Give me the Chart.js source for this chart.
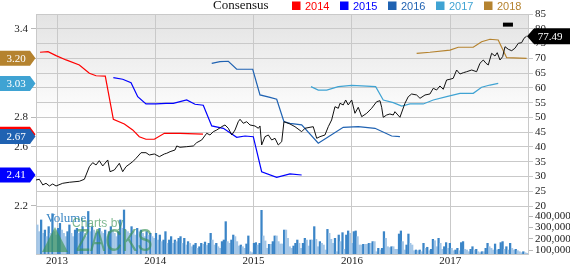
<!DOCTYPE html>
<html><head><meta charset="utf-8">
<script src="https://cdn.jsdelivr.net/npm/chart.js@4.4.1/dist/chart.umd.min.js"></script>
<style>html,body{margin:0;padding:0;background:#fff}</style>
</head><body>
<canvas id="c" width="570" height="264" style="width:570px;height:264px;display:block"></canvas>
<script>
// ---------- DATA ----------
const yearTicks = [2013, 2014, 2015, 2016, 2017];
const legendYears = ['2014', '2015', '2016', '2017', '2018'];
const volumeTicks = [100000, 200000, 300000, 400000];

const priceX = [2012.786,2012.820,2012.855,2012.888,2012.922,2012.956,2012.990,2013.058,2013.125,2013.227,2013.278,2013.329,2013.363,2013.397,2013.430,2013.465,2013.516,2013.539,2013.583,2013.634,2013.668,2013.702,2013.770,2013.804,2013.855,2013.905,2013.939,2013.990,2014.041,2014.092,2014.116,2014.150,2014.200,2014.218,2014.251,2014.319,2014.387,2014.421,2014.472,2014.523,2014.556,2014.590,2014.625,2014.675,2014.709,2014.743,2014.778,2014.811,2014.844,2014.862,2014.895,2014.930,2014.963,2015.014,2015.048,2015.065,2015.082,2015.116,2015.150,2015.184,2015.218,2015.251,2015.286,2015.309,2015.370,2015.421,2015.489,2015.523,2015.574,2015.607,2015.642,2015.675,2015.726,2015.760,2015.794,2015.828,2015.862,2015.879,2015.912,2015.937,2015.963,2015.998,2016.031,2016.065,2016.100,2016.151,2016.201,2016.252,2016.286,2016.303,2016.319,2016.354,2016.387,2016.421,2016.438,2016.489,2016.540,2016.574,2016.608,2016.659,2016.693,2016.744,2016.794,2016.828,2016.862,2016.896,2016.930,2016.964,2016.998,2017.031,2017.066,2017.100,2017.134,2017.168,2017.219,2017.269,2017.303,2017.337,2017.365,2017.388,2017.422,2017.456,2017.479,2017.507,2017.534,2017.558,2017.592,2017.626,2017.659,2017.693,2017.727,2017.751,2017.778];
const priceY = [28.81,29.05,27.12,27.69,26.78,27.45,26.78,27.69,28.03,28.37,29.05,33.31,34.67,33.89,35.34,33.55,35.58,31.62,32.19,34.46,31.62,33.31,35.00,36.15,38.05,38.05,37.27,37.61,36.70,37.61,37.85,38.39,38.96,40.32,39.88,40.08,40.32,41.44,42.35,44.62,44.04,45.16,45.73,46.85,47.43,46.31,44.04,45.73,48.54,49.36,48.00,48.54,47.43,47.09,46.31,47.09,40.66,43.47,44.04,42.35,42.92,40.66,41.77,48.54,47.77,46.85,45.16,46.31,46.65,46.85,42.92,43.47,44.04,46.85,49.12,53.62,53.08,54.77,54.20,55.89,54.20,55.89,51.39,53.42,50.24,51.39,53.08,55.31,55.65,53.42,50.03,50.81,51.15,50.81,51.93,50.03,54.77,57.01,57.92,57.58,56.46,57.58,57.92,59.85,59.27,60.63,59.51,62.66,62.90,63.23,66.04,64.69,65.13,65.47,66.04,65.47,68.31,69.43,68.31,67.74,71.70,70.78,71.90,69.43,70.55,73.93,73.05,72.58,73.39,75.08,75.28,76.77,77.49];

const est2014X = [2012.827,2012.908,2012.990,2013.092,2013.227,2013.329,2013.397,2013.491,2013.573,2013.685,2013.770,2013.837,2013.905,2013.990,2014.092,2014.251,2014.485];
const est2014Y = [3.241,3.245,3.218,3.189,3.155,3.099,3.082,3.080,2.787,2.755,2.715,2.669,2.652,2.652,2.692,2.692,2.686];
const est2015X = [2013.573,2013.668,2013.753,2013.821,2013.905,2014.007,2014.109,2014.183,2014.319,2014.404,2014.488,2014.574,2014.692,2014.828,2014.913,2014.997,2015.082,2015.235,2015.370,2015.489];
const est2015Y = [3.069,3.058,3.035,2.940,2.891,2.891,2.895,2.895,2.918,2.889,2.882,2.742,2.726,2.665,2.674,2.669,2.432,2.394,2.417,2.410];
const est2016X = [2014.574,2014.658,2014.743,2014.828,2014.991,2015.065,2015.167,2015.235,2015.309,2015.370,2015.489,2015.658,2015.912,2016.065,2016.235,2016.405,2016.489];
const est2016Y = [3.166,3.177,3.180,3.126,3.126,2.952,2.936,2.923,2.771,2.760,2.749,2.625,2.733,2.737,2.726,2.674,2.670];
const est2017X = [2015.584,2015.658,2015.744,2015.862,2015.998,2016.100,2016.242,2016.319,2016.421,2016.507,2016.591,2016.726,2016.828,2016.964,2017.100,2017.235,2017.320,2017.405,2017.489];
const est2017Y = [3.008,2.985,2.985,3.008,3.017,3.013,3.008,2.918,2.900,2.877,2.891,2.891,2.918,2.940,2.963,2.963,3.004,3.019,3.030];
const est2018X = [2016.659,2016.794,2016.998,2017.082,2017.235,2017.320,2017.405,2017.489,2017.575,2017.778];
const est2018Y = [3.234,3.241,3.256,3.275,3.275,3.312,3.329,3.324,3.204,3.200];

const markerX = [2017.537, 2017.639];
const markerY = [81.4, 81.4];

// weekly volume (thousands of shares), first week at volumeStart
const volumeStart = 2012.80;
const volumeStep = 1 / 52.18;
const volumeK = [321,262,365,247,276,218,306,247,420,262,232,291,335,276,247,218,262,321,247,218,276,291,247,262,306,247,218,440,262,306,276,247,262,291,262,247,276,218,262,306,276,247,218,262,365,291,453,276,262,247,306,262,232,291,262,276,247,218,262,232,247,218,203,247,188,232,174,188,262,159,188,218,159,188,174,203,218,159,203,144,174,159,129,144,159,115,129,
159,150,170,140,159,247,188,144,159,129,115,174,188,350,174,159,188,232,218,174,135,144,129,115,153,224,85,76,159,165,144,159,450,224,180,115,150,150,174,224,224,174,153,153,276,276,203,129,115,135,159,188,159,115,159,203,188,135,188,188,306,194,129,174,159,144,100,282,247,194,159,203,85,232,174,253,106,232,268,247,159,262,268,218,144,144,150,
150,150,159,159,174,174,85,115,100,115,262,203,129,121,129,129,106,106,241,268,174,100,144,241,159,144,94,100,94,100,85,159,115,124,94,106,194,182,129,203,159,106,129,165,115,159,115,94,100,115,94,165,174,106,100,85,106,129,100,106,85,76,85,85,115,159,129,115,100,153,100,106,165,174,106,129,100,159,115,100,106,94,85,76,85,76,71];

// ---------- STYLE ----------
const SERIF = '"Liberation Serif", "DejaVu Serif", serif';
const SANS = '"Liberation Sans", "DejaVu Sans", sans-serif';
const COL = {'2014':'#ff0000','2015':'#0000ff','2016':'#1f62b2','2017':'#3fa3d3','2018':'#b5832f'};
const GRID = '#c9c9c9';
const X_MIN = 2012.786, X_MAX = 2017.792;

const pts = (xs, ys) => xs.map((x, i) => ({x, y: ys[i]}));
const estLine = (yr, xs, ys) => ({type:'line', label: yr, yAxisID:'yL', data: pts(xs, ys), borderColor: COL[yr], borderWidth: 1.2, pointRadius: 0, tension: 0, order: 2});

const datasets = [
  {type:'bar', label:'Volume', yAxisID:'yV', order: 10,
   data: volumeK.map((v, i) => ({x: volumeStart + i * volumeStep, y: v * 1000})),
   backgroundColor: ctx => { const i = ctx.dataIndex; return (i > 0 && volumeK[i] > volumeK[i-1]) ? '#3b85c7' : '#a3c6e7'; },
   barThickness: 1.6, borderWidth: 0},
  estLine('2014', est2014X, est2014Y),
  estLine('2015', est2015X, est2015Y),
  estLine('2016', est2016X, est2016Y),
  estLine('2017', est2017X, est2017Y),
  estLine('2018', est2018X, est2018Y),
  {type:'line', label:'Price', yAxisID:'yP', data: pts(priceX, priceY), borderColor:'#111', borderWidth: 1, pointRadius: 0, tension: 0, order: 1},
  {type:'line', label:'Marker', yAxisID:'yP', data: pts(markerX, markerY), borderColor:'#000', borderWidth: 4, pointRadius: 0, order: 0}
];

const setTicks = vals => s => { s.ticks = vals.map(v => ({value: v})); };

const decor = {
  id: 'decor',
  beforeDraw(chart) {
    const {ctx, chartArea: a} = chart;
    const g = ctx.createLinearGradient(0, a.top, 0, a.bottom);
    g.addColorStop(0, '#e3e3e3');
    g.addColorStop(0.45, '#ffffff');
    g.addColorStop(1, '#ffffff');
    ctx.save(); ctx.fillStyle = g; ctx.fillRect(a.left, a.top, a.right - a.left, a.bottom - a.top); ctx.restore();
  },
  afterDatasetsDraw(chart) {
    const {ctx, chartArea: a} = chart;
    ctx.save();
    // Volume label
    ctx.fillStyle = '#3a86c4';
    ctx.font = '13px ' + SERIF;
    ctx.textBaseline = 'alphabetic'; ctx.textAlign = 'left';
    ctx.fillText('Volume', a.left + 10, a.bottom - 32);
    // watermark
    ctx.globalAlpha = 0.65;
    ctx.fillStyle = '#3b9456';
    ctx.font = '12px ' + SANS;
    ctx.fillText('Charts by', a.left + 36, a.bottom - 27);
    ctx.save();
    ctx.translate(a.left + 40, a.bottom - 3);
    ctx.scale(0.74, 1);
    ctx.font = '31px ' + SANS;
    ctx.fillText('ZACKS', 0, 0);
    ctx.restore();
    // triangle logo
    ctx.beginPath();
    ctx.moveTo(a.left + 6, a.bottom - 2);
    ctx.lineTo(a.left + 19, a.bottom - 27);
    ctx.lineTo(a.left + 32, a.bottom - 2);
    ctx.closePath(); ctx.fill();
    ctx.globalAlpha = 1;
    ctx.restore();
  },
  afterDraw(chart) {
    const {ctx, chartArea: a, scales} = chart;
    ctx.save();
    // top border
    ctx.strokeStyle = GRID; ctx.lineWidth = 1;
    ctx.beginPath(); ctx.moveTo(a.left, a.top + 0.5); ctx.lineTo(a.right, a.top + 0.5); ctx.stroke();
    // volume axis labels
    ctx.font = '11px ' + SERIF; ctx.fillStyle = '#222'; ctx.textAlign = 'left'; ctx.textBaseline = 'middle';
    volumeTicks.forEach(v => {
      ctx.fillText(v.toLocaleString('en-US'), a.right + 7, scales.yV.getPixelForValue(v));
    });
    // legend
    ctx.font = '13px ' + SERIF; ctx.fillStyle = '#111';
    ctx.fillText('Consensus', 213, 6);
    ctx.font = '11px ' + SANS;
    legendYears.forEach((yr, i) => {
      const tx = 305 + i * 48;
      ctx.fillStyle = COL[yr];
      ctx.fillRect(tx - 13, 1.5, 8.5, 8.5);
      ctx.fillText(yr, tx, 6.5);
    });
    // left tags (estimate last values)
    const yL = scales.yL;
    const tags = [['2018', est2018Y], ['2017', est2017Y], ['2014', est2014Y], ['2016', est2016Y], ['2015', est2015Y]];
    ctx.font = '11px ' + SERIF; ctx.textAlign = 'center';
    tags.forEach(([yr, arr]) => {
      const v = arr[arr.length - 1];
      const y = yL.getPixelForValue(v);
      ctx.fillStyle = COL[yr];
      ctx.beginPath();
      ctx.moveTo(0, y - 7.5); ctx.lineTo(30, y - 7.5); ctx.lineTo(35.5, y); ctx.lineTo(30, y + 7.5); ctx.lineTo(0, y + 7.5);
      ctx.closePath(); ctx.fill();
      ctx.fillStyle = '#fff';
      ctx.fillText(v.toFixed(2), 16, y + 0.5);
    });
    // right tag (last price)
    const last = priceY[priceY.length - 1];
    const yp = scales.yP.getPixelForValue(last);
    ctx.fillStyle = '#000';
    ctx.beginPath();
    ctx.moveTo(a.right - 1, yp); ctx.lineTo(a.right + 6, yp - 8); ctx.lineTo(570, yp - 8); ctx.lineTo(570, yp + 8); ctx.lineTo(a.right + 6, yp + 8);
    ctx.closePath(); ctx.fill();
    ctx.fillStyle = '#fff'; ctx.textAlign = 'center';
    ctx.fillText(last.toFixed(2), 550, yp + 0.5);
    ctx.restore();
  }
};

new Chart(document.getElementById('c'), {
  data: {datasets},
  options: {
    responsive: false, animation: false, devicePixelRatio: 1,
    layout: {padding: {top: 14, left: 0, right: 0, bottom: 0}},
    plugins: {legend: {display: false}, tooltip: {enabled: false}},
    scales: {
      x: {type: 'linear', min: X_MIN, max: X_MAX, offset: false,
          afterBuildTicks: setTicks(yearTicks),
          afterFit: s => { s.height = 10; },
          ticks: {callback: v => String(v), font: {family: SERIF, size: 11}, color: '#222', padding: 1, maxRotation: 0, autoSkip: false},
          grid: {color: GRID, drawTicks: false, offset: false}, border: {color: GRID}},
      yL: {type: 'linear', position: 'left', min: 1.875, max: 3.5,
           afterBuildTicks: setTicks([2.2, 2.4, 2.6, 2.8, 3.0, 3.2, 3.4]),
           afterFit: s => { s.width = 36; },
           ticks: {callback: v => Number(v).toFixed(1), font: {family: SERIF, size: 11}, color: '#222', padding: 3},
           grid: {drawOnChartArea: false, tickLength: 5, color: '#b8b8b8'}, border: {color: GRID}},
      yV: {type: 'linear', position: 'right', weight: 0, min: 64706, max: 2182353,
           afterBuildTicks: setTicks(volumeTicks),
           afterFit: s => { s.width = 0; },
           ticks: {display: false},
           grid: {drawOnChartArea: false, tickLength: 5, color: '#b8b8b8'}, border: {display: false}},
      yP: {type: 'linear', position: 'right', weight: 1, min: 3.75, max: 85,
           afterBuildTicks: setTicks([20,25,30,35,40,45,50,55,60,65,70,75,80,85]),
           afterFit: s => { s.width = 42; },
           ticks: {callback: v => String(v), font: {family: SERIF, size: 11}, color: '#222', padding: 2},
           grid: {color: GRID, tickLength: 5}, border: {color: GRID}}
    }
  },
  plugins: [decor]
});
</script>
</body></html>
